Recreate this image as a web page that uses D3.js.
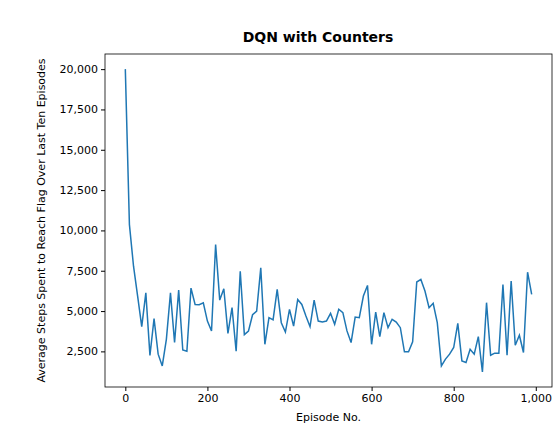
<!DOCTYPE html>
<html><head><meta charset="utf-8">
<script src="https://cdn.jsdelivr.net/npm/d3@7"></script>
<style>body{margin:0;background:#fff}text{font-family:"DejaVu Sans",sans-serif}</style>
</head><body>
<svg width="554" height="430"></svg>
<script>
// average steps, one value every 10 episodes (0..990)
const episodes = d3.range(0, 1000, 10)
const steps = [20000,10360,7780,5920,4030,6130,2250,4530,2330,1600,
  3250,6130,3050,6300,2590,2510,6420,5410,5390,5510,
  4380,3760,9120,5680,6380,3620,5210,2510,7470,3540,
  3760,4770,5000,7680,2940,4590,4450,6340,4280,3700,
  5100,4070,5720,5410,4690,4030,5680,4380,4320,4380,
  4860,4180,5110,4900,3770,3050,4630,4590,5930,6590,
  2940,4940,3420,4900,3970,4490,4320,3970,2470,2470,
  3090,6800,6960,6240,5210,5480,4280,1600,2020,2330,
  2740,4240,1910,1810,2630,2330,3420,1230,5520,2260,
  2390,2390,6650,2260,6860,2880,3500,2430,7410,6030]
const xTicks = [0, 200, 400, 600, 800, 1000]
const yTicks = [2500, 5000, 7500, 10000, 12500, 15000, 17500, 20000]

const svg = d3.select('svg')
const L = 105, R = 552, T = 54, B = 387
const x = d3.scaleLinear().domain([-49.5, 1039.5]).range([L, R])
const y = d3.scaleLinear().domain([292, 20938]).range([B, T])

svg.append('g').attr('transform', `translate(0,${B})`)
  .call(d3.axisBottom(x).tickValues(xTicks).tickSize(4).tickPadding(3))
svg.append('g').attr('transform', `translate(${L},0)`)
  .call(d3.axisLeft(y).tickValues(yTicks).tickSize(4).tickPadding(3))
svg.selectAll('.tick text').attr('font-size', 11).attr('fill', '#000')
svg.selectAll('.domain').remove()
svg.append('rect').attr('x', L).attr('y', T).attr('width', R - L).attr('height', B - T)
  .attr('fill', 'none').attr('stroke', '#000').attr('stroke-width', 0.8)

svg.append('path').datum(episodes)
  .attr('fill', 'none').attr('stroke', '#1f77b4').attr('stroke-width', 1.5)
  .attr('d', d3.line().x(d => x(d)).y((d, i) => y(steps[i])))

svg.append('text').attr('x', 318).attr('y', 42).attr('text-anchor', 'middle')
  .attr('font-size', 14).attr('font-weight', 'bold').attr('font-family', 'Liberation Sans, Arial, sans-serif')
  .text('DQN with Counters')
svg.append('text').attr('x', (L + R) / 2).attr('y', 421).attr('text-anchor', 'middle')
  .attr('font-size', 11).text('Episode No.')
svg.append('text').attr('transform', `translate(45,${(T + B) / 2}) rotate(-90)`)
  .attr('text-anchor', 'middle').attr('font-size', 11)
  .text('Average Steps Spent to Reach Flag Over Last Ten Episodes')
</script>
</body></html>
